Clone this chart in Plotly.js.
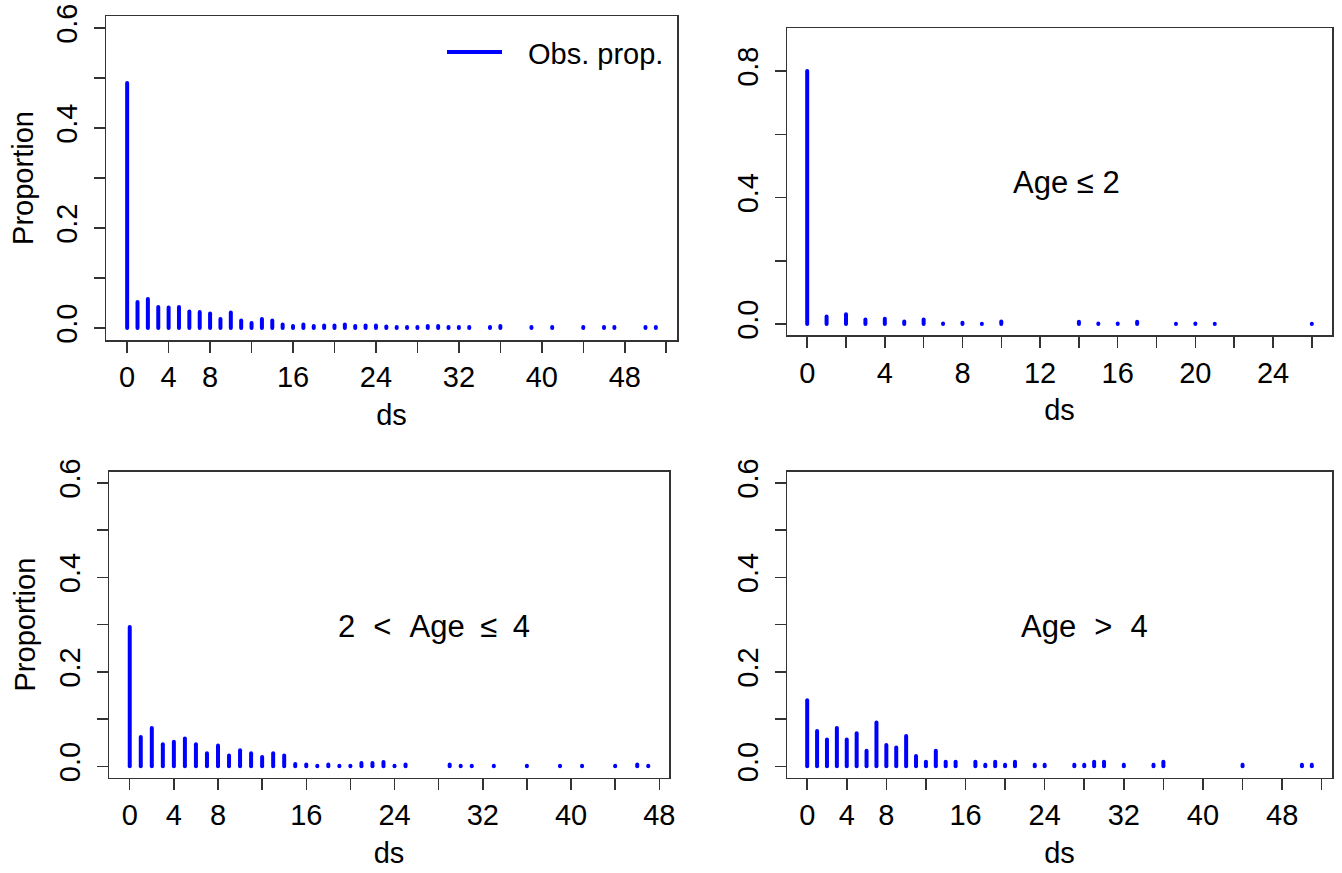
<!DOCTYPE html>
<html><head><meta charset="utf-8">
<script src="https://cdn.plot.ly/plotly-3.0.1.min.js"></script>
<style>
html,body{margin:0;padding:0;background:#fff;}
#chart{width:1342px;height:873px;}
.scatterlayer .js-line {stroke-linecap: round;}
.legend .js-line {display:none;}
</style></head><body><div id="chart"></div>
<script>
// Panel 1: all observations
const dsAll   = [0,1,2,3,4,5,6,7,8,9,10,11,12,13,14,15,16,17,18,19,20,21,22,23,24,25,26,27,28,29,30,31,32,33,35,36,39,41,44,46,47,50,51];
const propAll = [0.49,0.052,0.058,0.042,0.041,0.042,0.033,0.032,0.029,0.018,0.031,0.015,0.010,0.018,0.015,0.007,0.004,0.007,0.004,0.005,0.005,0.007,0.004,0.005,0.005,0.003,0.002,0.002,0.002,0.004,0.004,0.002,0.002,0.002,0.002,0.004,0.002,0.002,0.002,0.002,0.002,0.002,0.002];
// Panel 2: Age <= 2
const dsAge2   = [0,1,2,3,4,5,6,7,8,9,10,14,15,16,17,19,20,21,26];
const propAge2 = [0.80,0.024,0.031,0.014,0.017,0.008,0.014,0.002,0.004,0.001,0.008,0.007,0.0015,0.0015,0.007,0.001,0.002,0.001,0.001];
// Panel 3: 2 < Age <= 4
const dsAge24   = [0,1,2,3,4,5,6,7,8,9,10,11,12,13,14,15,16,17,18,19,20,21,22,23,24,25,29,30,31,33,36,39,41,44,46,47];
const propAge24 = [0.295,0.062,0.081,0.047,0.052,0.059,0.047,0.028,0.044,0.023,0.034,0.028,0.020,0.028,0.023,0.005,0.004,0.0015,0.004,0.0015,0.0015,0.007,0.007,0.009,0.0015,0.004,0.004,0.0015,0.0015,0.0015,0.0015,0.0015,0.0015,0.0015,0.004,0.0015];
// Panel 4: Age > 4
const dsAge4   = [0,1,2,3,4,5,6,7,8,9,10,11,12,13,14,15,17,18,19,20,21,23,24,27,28,29,30,32,35,36,44,50,51];
const propAge4 = [0.140,0.075,0.057,0.081,0.057,0.070,0.033,0.093,0.045,0.040,0.064,0.022,0.010,0.033,0.010,0.010,0.010,0.0035,0.010,0.0035,0.010,0.0035,0.0035,0.0035,0.0035,0.010,0.010,0.0035,0.0035,0.010,0.0035,0.0035,0.0035];

// Tick values / labels
const xTicks52 = [0,4,8,12,16,20,24,28,32,36,40,44,48,52];
const xLabels52 = ['0','4','8','','16','','24','','32','','40','','48',''];
const xTicks26 = [0,2,4,6,8,10,12,14,16,18,20,22,24,26];
const xLabels26 = ['0','','4','','8','','12','','16','','20','','24',''];
const xTicks48 = [0,4,8,12,16,20,24,28,32,36,40,44,48];
const xLabels48 = ['0','4','8','','16','','24','','32','','40','','48'];
const yTicks06 = [0,0.1,0.2,0.3,0.4,0.5,0.6];
const yLabels06 = ['0.0','','0.2','','0.4','','0.6'];
const yTicks08 = [0,0.2,0.4,0.6,0.8];
const yLabels08 = ['0.0','','0.4','','0.8'];

const BLUE = '#0000ff';
const FONT = 'Liberation Sans, Arial, Helvetica, sans-serif';
const FS = 29;

function stems(xs, ys){
  const X = [], Y = [];
  xs.forEach((x,i)=>{ X.push(x,x,null); Y.push(0,ys[i],null); });
  return {X, Y};
}
function trace(xs, ys, xa, ya, showleg){
  const s = stems(xs, ys);
  return {type:'scatter', mode:'lines', x:s.X, y:s.Y, xaxis:xa, yaxis:ya,
    line:{color:BLUE, width:4}, connectgaps:false, hoverinfo:'skip',
    name:'Obs. prop.', showlegend:!!showleg};
}
const W = 1342, H = 873;
function xaxis(l, r, range, tv, tt, anchor){
  return {domain:[l/W, r/W], range, tickmode:'array', tickvals:tv, ticktext:tt,
    ticks:'outside', ticklen:11, tickwidth:1.5, tickcolor:'#333',
    showline:true, mirror:true, linecolor:'#333', linewidth:1.5,
    zeroline:false, showgrid:false, anchor,
    tickfont:{size:FS, color:'#000', family:FONT},
    title:{text:'ds', font:{size:FS, color:'#000', family:FONT}, standoff:12}};
}
function yaxis(top, bottom, range, tv, tt, anchor, title){
  return {domain:[1-bottom/H, 1-top/H], range, tickmode:'array', tickvals:tv, ticktext:tt,
    ticks:'outside', ticklen:11, tickwidth:1.5, tickcolor:'#333', tickangle:-90,
    ticklabelstandoff:5,
    showline:true, mirror:true, linecolor:'#333', linewidth:1.5,
    zeroline:false, showgrid:false, anchor,
    tickfont:{size:FS, color:'#000', family:FONT},
    title:{text:title || '', font:{size:FS, color:'#000', family:FONT}, standoff:9}};
}

const data = [
  trace(dsAll, propAll, 'x', 'y', true),
  trace(dsAge2, propAge2, 'x2', 'y2'),
  trace(dsAge24, propAge24, 'x3', 'y3'),
  trace(dsAge4, propAge4, 'x4', 'y4')
];

const sp = '\u2002\u200A';
const layout = {
  width:W, height:H, margin:{l:0, r:0, t:0, b:0},
  paper_bgcolor:'#fff', plot_bgcolor:'#fff',
  font:{family:FONT, color:'#000'},
  xaxis:  xaxis(106, 677, [-2.04, 53.04], xTicks52, xLabels52, 'y'),
  yaxis:  yaxis(16, 340, [-0.024, 0.624], yTicks06, yLabels06, 'x', 'Proportion'),
  xaxis2: xaxis(787, 1332, [-1.04, 27.04], xTicks26, xLabels26, 'y2'),
  yaxis2: yaxis(28, 335.4, [-0.036, 0.936], yTicks08, yLabels08, 'x2'),
  xaxis3: xaxis(109, 669, [-1.88, 48.88], xTicks48, xLabels48, 'y3'),
  yaxis3: yaxis(471.5, 777.7, [-0.024, 0.624], yTicks06, yLabels06, 'x3', 'Proportion'),
  xaxis4: xaxis(787, 1332, [-2.04, 53.04], xTicks52, xLabels52, 'y4'),
  yaxis4: yaxis(471.5, 777.7, [-0.024, 0.624], yTicks06, yLabels06, 'x4'),
  showlegend:true,
  legend:{x:488/W, y:1-53/H, xanchor:'left', yanchor:'middle', bgcolor:'rgba(0,0,0,0)',
    font:{size:FS, color:'#000', family:FONT}, borderwidth:0},
  shapes:[
    {type:'line', xref:'paper', yref:'paper', x0:447/W, x1:502/W, y0:1-52/H, y1:1-52/H,
     line:{color:BLUE, width:4}}
  ],
  annotations:[
    {text:'Age ≤ 2', xref:'paper', yref:'paper', x:1066/W, y:1-182/H, showarrow:false,
     font:{size:31, color:'#000', family:FONT}, xanchor:'center', yanchor:'middle'},
    {text:'2'+sp+'<'+sp+'Age\u2002≤\u20024', xref:'paper', yref:'paper', x:434/W, y:1-626/H, showarrow:false,
     font:{size:31, color:'#000', family:FONT}, xanchor:'center', yanchor:'middle'},
    {text:'Age'+sp+'>'+sp+'4', xref:'paper', yref:'paper', x:1084/W, y:1-626/H, showarrow:false,
     font:{size:31, color:'#000', family:FONT}, xanchor:'center', yanchor:'middle'}
  ]
};
Plotly.newPlot('chart', data, layout, {staticPlot:true, displayModeBar:false});
</script></body></html>
